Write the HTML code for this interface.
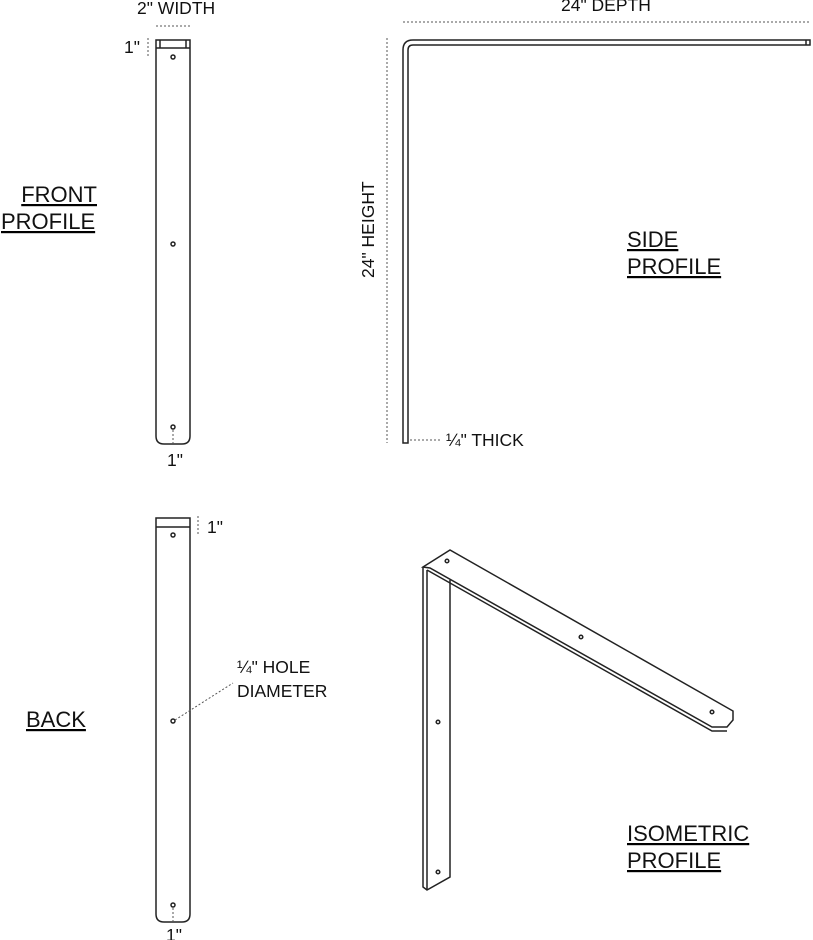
<!DOCTYPE html>
<html><head><style>
body{margin:0;background:#fff;}
svg{display:block;font-family:"Liberation Sans",Arial,sans-serif;}
text{fill:#111;}
</style></head><body>
<svg width="813" height="940" viewBox="0 0 813 940" xmlns="http://www.w3.org/2000/svg">
<g fill="none" stroke="#222" stroke-width="1.5">
<path d="M156 40 H190 V436 Q190 444 182 444 H164 Q156 444 156 436 Z"/>
<line x1="156" y1="48" x2="190" y2="48"/>
<line x1="160" y1="40" x2="160" y2="48"/><line x1="186" y1="40" x2="186" y2="48"/>
<circle cx="173" cy="57" r="2"/><circle cx="173" cy="244" r="2"/><circle cx="173" cy="427" r="2"/>
<path d="M156 518 H190 V914 Q190 922 182 922 H164 Q156 922 156 914 Z"/>
<line x1="156" y1="527" x2="190" y2="527"/>
<circle cx="173" cy="535" r="2"/><circle cx="173" cy="721" r="2"/><circle cx="173" cy="905" r="2"/>
<path d="M403 443 V50 Q403 40 413 40 H810 V45 H413 Q408 45 408 50 V443 Z"/>
<line x1="806" y1="40" x2="806" y2="45"/>
<path d="M423 567 L450 550 L733 711 L733 720 L727 727 L712 727 L430 568 Z"/>
<path d="M427 570 L712 731 L727 731"/>
<path d="M423 567 V887 L427 890 L450 877 V580"/>
<line x1="427" y1="570" x2="427" y2="890"/>
<circle cx="447" cy="561" r="1.8"/><circle cx="581" cy="637" r="1.8"/><circle cx="712" cy="712" r="1.8"/>
<circle cx="438" cy="722" r="1.8"/><circle cx="438" cy="872" r="1.8"/>
</g>
<g fill="none" stroke="#555" stroke-width="1" stroke-dasharray="2,2">
<line x1="156" y1="26" x2="190" y2="26"/>
<line x1="148" y1="38" x2="148" y2="58"/>
<line x1="173" y1="430" x2="173" y2="444"/>
<line x1="198" y1="516" x2="198" y2="534"/>
<line x1="173" y1="908" x2="173" y2="922"/>
<line x1="403" y1="22" x2="810" y2="22"/>
<line x1="387" y1="38" x2="387" y2="443"/>
<line x1="410" y1="440" x2="442" y2="440"/>
<line x1="175" y1="720" x2="233" y2="683"/>
</g>
<g font-size="17.5">
<text x="137" y="14">2" WIDTH</text>
<text x="124" y="53">1"</text>
<text x="167" y="466">1"</text>
<text x="207" y="533">1"</text>
<text x="166" y="941">1"</text>
<text x="561" y="11">24" DEPTH</text>
<text x="446" y="446">¼" THICK</text>
<text x="237" y="673">¼" HOLE</text>
<text x="237" y="697">DIAMETER</text>
<text transform="translate(374 278) rotate(-90)">24" HEIGHT</text>
</g>
<g font-size="22" text-decoration="underline">
<text x="97" y="202" text-anchor="end">FRONT</text>
<text x="1" y="229">PROFILE</text>
<text x="627" y="247">SIDE </text>
<text x="627" y="274">PROFILE</text>
<text x="26" y="727">BACK</text>
<text x="627" y="841">ISOMETRIC</text>
<text x="627" y="868">PROFILE</text>
</g>
</svg>
</body></html>
